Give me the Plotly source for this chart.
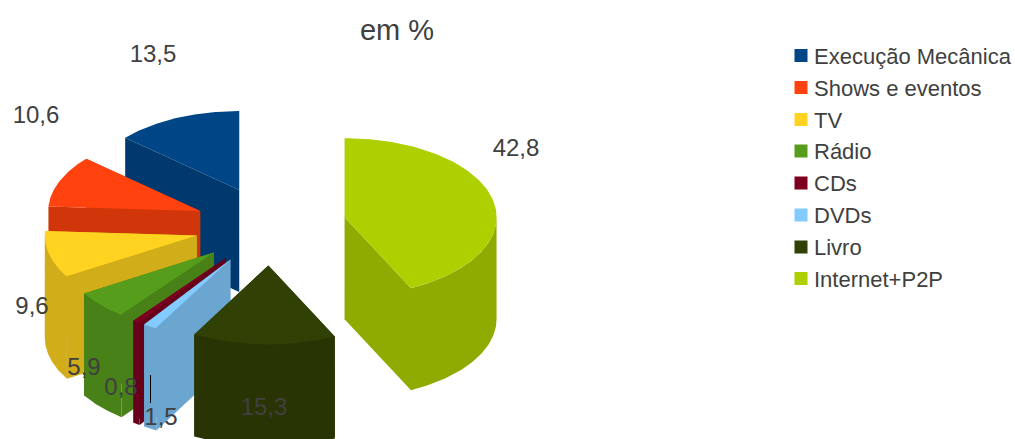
import numpy as np
import plotly.graph_objects as go

# Shares in %, clockwise from 12 o'clock
categories = ["Internet+P2P", "Livro", "DVDs", "CDs", "Rádio", "TV", "Shows e eventos", "Execução Mecânica"]
values = [42.8, 15.3, 1.5, 0.8, 5.9, 9.6, 10.6, 13.5]
value_labels = ["42,8", "15,3", "1,5", "0,8", "5,9", "9,6", "10,6", "13,5"]
colors = ["#aecf00", "#314004", "#83caff", "#7e0021", "#579d1c", "#ffd320", "#ff420e", "#004586"]
label_x = [516, 264, 161, 121, 84, 32, 36, 153]
label_y = [150, 409, 419, 389, 369, 308, 117, 56]

# Legend runs top to bottom in the reverse of the slice order
swatch_x = 801
text_x = 814
legend_y = [55.5, 87.5, 119.5, 151, 183, 215, 247, 278.5]
legend_text_y = [y + 2.5 for y in legend_y]

# Projected pie geometry, in canvas pixels
CX, CY = 270.5, 226
RX, RY = 152, 79
DEPTH = 102
EXPLODE = 76
WALL_SHADE = 0.82
TEXT = "#404040"
FONT = "Liberation Sans"


def darken(color, k):
    r, g, b = (int(color[i:i + 2], 16) for i in (1, 3, 5))
    return f"rgb({r * k:.0f},{g * k:.0f},{b * k:.0f})"


def polygon(xs, ys, color):
    return go.Scatter(x=xs, y=ys, mode="lines", fill="toself", fillcolor=color,
                      line=dict(width=0), hoverinfo="skip", showlegend=False)


def rim(ax, ay, t):
    return ax + RX * np.sin(t), ay - RY * np.cos(t)


def cut_face(ax, ay, t, color):
    ex, ey = rim(ax, ay, t)
    return polygon([ax, ex, ex, ax, ax], [ay, ey, ey + DEPTH, ay + DEPTH, ay], color)


fig = go.Figure()

edges = np.radians(np.concatenate([[0], np.cumsum(values)]) * 3.6)
slices = []
for i, color in enumerate(colors):
    t0, t1 = edges[i], edges[i + 1]
    mid = (t0 + t1) / 2
    ax = CX + EXPLODE * np.sin(mid)
    ay = CY - EXPLODE * (RY / RX) * np.cos(mid)
    slices.append((i, t0, t1, mid, ax, ay, color))

# Back-to-front: the slice nearest the top of the ellipse goes first
for i, t0, t1, mid, ax, ay, color in sorted(slices, key=lambda s: -s[0]):
    side = darken(color, WALL_SHADE)
    # The cut face turned towards the viewer is painted last
    order = (t1, t0) if mid > np.pi else (t0, t1)
    for t in order:
        fig.add_trace(cut_face(ax, ay, t, side))
    # Outer wall: only the front half of the rim shows
    lo, hi = max(t0, np.pi / 2), min(t1, 3 * np.pi / 2)
    if hi > lo:
        ts = np.linspace(lo, hi, 80)
        wx, wy = rim(ax, ay, ts)
        fig.add_trace(polygon(np.r_[wx, wx[::-1], wx[0]],
                              np.r_[wy, wy[::-1] + DEPTH, wy[0]], side))
    # Top surface
    ts = np.linspace(t0, t1, 120)
    tx, ty = rim(ax, ay, ts)
    fig.add_trace(polygon(np.r_[ax, tx, ax], np.r_[ay, ty, ay], color))

# Value labels
fig.add_trace(go.Scatter(x=label_x, y=label_y, mode="text", text=value_labels,
                         textposition="middle center",
                         textfont=dict(family=FONT, size=24, color=TEXT),
                         hoverinfo="skip", showlegend=False))

# Legend column: swatches, then their names
fig.add_trace(go.Scatter(x=[swatch_x] * len(categories), y=legend_y, mode="markers",
                         marker=dict(symbol="square", size=13, color=colors[::-1], line=dict(width=0)),
                         hoverinfo="skip", showlegend=False))
fig.add_trace(go.Scatter(x=[text_x] * len(categories), y=legend_text_y, mode="text",
                         text=categories[::-1], textposition="middle right",
                         textfont=dict(family=FONT, size=22, color=TEXT),
                         hoverinfo="skip", showlegend=False))

fig.update_layout(
    width=1015, height=439,
    margin=dict(l=0, r=0, t=0, b=0),
    paper_bgcolor="white", plot_bgcolor="white",
    xaxis=dict(range=[0, 1015], visible=False),
    yaxis=dict(range=[439, 0], visible=False),
    title=dict(text="em %", x=397 / 1015, y=1 - 30 / 439, xanchor="center", yanchor="middle",
               font=dict(family=FONT, size=29, color=TEXT)),
    # Leader line from the 1,5 label up to its slice
    shapes=[dict(type="line", x0=150.5, x1=150.5, y0=375, y1=403, xref="x", yref="y",
                 line=dict(color="black", width=1))],
)

fig.write_html("out.html")
